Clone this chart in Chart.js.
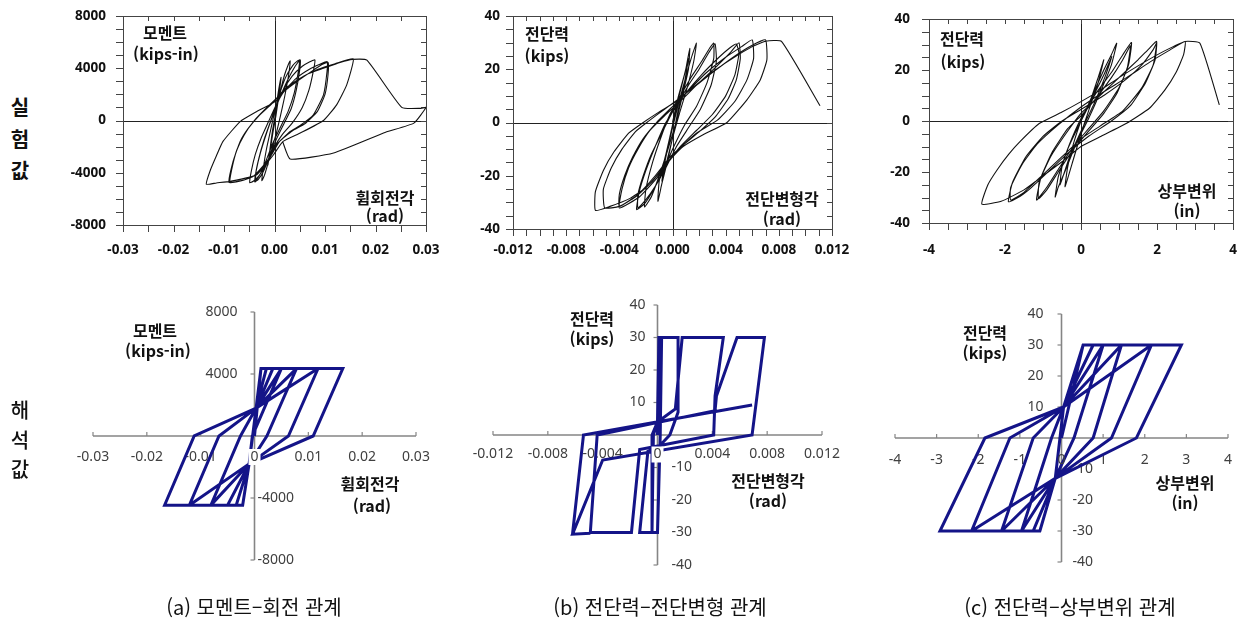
<!DOCTYPE html>
<html lang="ko">
<head>
<meta charset="utf-8">
<title>모멘트-회전, 전단력-전단변형, 전단력-상부변위 관계</title>
<script src="https://cdn.jsdelivr.net/npm/chart.js@4.4.1/dist/chart.umd.min.js"></script>
<style>
  html, body { margin: 0; padding: 0; background: #fff; }
  body { position: relative; width: 1241px; height: 624px; overflow: hidden;
         font-family: "Noto Sans CJK KR", "Noto Sans", sans-serif; }
  canvas { position: absolute; }
  .lbl { position: absolute; transform: translate(-50%, -50%); white-space: nowrap;
         line-height: 1; color: #111; font-weight: 700; font-size: 16px; }
  .row { position: absolute; transform: translate(-50%, -50%); font-size: 20px; line-height: 1; color: #111; }
  .cap { position: absolute; transform: translate(-50%, -50%); font-size: 20px; line-height: 1;
         color: #111; white-space: nowrap; }
</style>
</head>
<body>
<script>
// ---------- measured hysteresis paths [x, y] ----------
// (a) test: rotation (rad) vs moment (kips-in)
const momentTest = [
  [0,0],[0.0006,1800],[0.0013,3300],
  [0.0010,2300],[0.0003,400],[-0.0003,-900],[-0.0009,-2400],[-0.0013,-3400],
  [-0.0010,-2500],[-0.0004,-800],[0.0004,900],[0.0012,2300],[0.0020,3500],[0.0027,4250],[0.0031,4560],
  [0.0028,3500],[0.0020,1800],[0.0012,400],[0.0004,-900],[-0.0004,-2000],[-0.0013,-3300],[-0.0020,-4200],[-0.0025,-4600],
  [-0.0022,-3600],[-0.0016,-2200],[-0.0008,-800],[0.0000,600],[0.0010,2000],[0.0022,3300],[0.0036,4200],[0.0045,4550],[0.0051,4640],
  [0.0050,3900],[0.0043,2300],[0.0033,900],[0.0018,-300],[0.0003,-1500],[-0.0010,-2800],[-0.0022,-3900],[-0.0032,-4500],[-0.0039,-4700],
  [-0.0036,-3800],[-0.0028,-2500],[-0.0016,-1000],[-0.0004,300],[0.0010,1700],[0.0026,3100],[0.0040,4100],[0.0049,4550],
  [0.0047,3700],[0.0039,2100],[0.0027,700],[0.0012,-500],[-0.0003,-1700],[-0.0016,-3000],[-0.0027,-4000],[-0.0037,-4600],
  [-0.0037,-4000],[-0.0031,-2900],[-0.0021,-1500],[-0.0010,-300],[0.0002,1000],[0.0017,2300],[0.0035,3400],[0.0055,4150],[0.0070,4500],[0.0080,4640],
  [0.0077,3800],[0.0068,2300],[0.0055,1000],[0.0035,-200],[0.0015,-1100],[0.0000,-2000],[-0.0015,-3200],[-0.0030,-4200],[-0.0042,-4650],[-0.0049,-4750],
  [-0.0046,-3900],[-0.0038,-2600],[-0.0026,-1300],[-0.0012,-100],[0.0002,1100],[0.0020,2300],[0.0045,3300],[0.0070,3950],[0.0090,4300],[0.0104,4510],
  [0.0104,3750],[0.0097,1960],[0.0077,440],[0.0050,-400],[0.0031,-840],[0.0004,-1860],[-0.0015,-3130],[-0.0042,-4280],[-0.0065,-4600],[-0.0088,-4710],
  [-0.0085,-3800],[-0.0075,-2300],[-0.0060,-1100],[-0.0040,0],[-0.0015,1000],[0.0015,2100],[0.0045,3000],[0.0075,3800],[0.0095,4300],[0.0106,4450],
  [0.0106,3500],[0.0100,2000],[0.0085,700],[0.0060,-250],[0.0035,-800],[0.0010,-1600],[-0.0010,-2900],[-0.0035,-4100],[-0.0060,-4550],[-0.0090,-4750],
  [-0.0082,-3130],[-0.0068,-1600],[-0.0052,-600],[-0.0030,400],[-0.0005,1300],[0.0020,2400],[0.0051,3240],[0.0085,3900],[0.0120,4350],[0.0156,4720],
  [0.0143,2730],[0.0123,1200],[0.0097,0],[0.0051,-960],[0.0017,-1600],[-0.0002,-2620],[-0.0035,-4150],[-0.0088,-4660],[-0.0115,-4780],[-0.0135,-4880],
  [-0.0128,-3900],[-0.0115,-2700],[-0.0102,-1600],[-0.0068,-80],[-0.0035,690],[0.0001,1450],[0.0031,2730],[0.0065,3550],[0.0097,4000],[0.0130,4450],[0.0154,4680],
  [0.0183,4620],[0.0252,1000],[0.0290,930],[0.0300,1000],[0.0276,-200],[0.0220,-900],[0.0117,-2490],[0.0031,-2950],[0.0016,-1600]
];

// (b) test: shear distortion (rad) vs shear (kips)
const shearTest = [
  [0,0],[0.0004,9],[0.0009,18],[0.0012,24],
  [0.0009,15],[0.0004,4],[0.0000,-6],[-0.0004,-14],[-0.0008,-22],
  [-0.0005,-13],[0.0000,-2],[0.0005,8],[0.0010,17],[0.0014,24],[0.0018,29.8],
  [0.0016,23],[0.0011,13],[0.0005,3],[0.0000,-6],[-0.0004,-15],[-0.0008,-23],[-0.0011,-29.6],
  [-0.0010,-22],[-0.0005,-12],[0.0000,-1],[0.0005,10],[0.0010,20],[0.0013,27.9],
  [0.0012,20],[0.0007,9],[0.0002,-1],[-0.0004,-11],[-0.0010,-20],[-0.0016,-28],[-0.0021,-31.7],
  [-0.0020,-25],[-0.0015,-15],[-0.0009,-6],[-0.0002,3],[0.0006,10],[0.0014,17],[0.0022,23],[0.0028,28],[0.0031,29.8],
  [0.0031,24],[0.0026,15],[0.0018,6],[0.0009,-1],[0.0001,-9],[-0.0006,-17],[-0.0014,-25],[-0.0021,-30.5],[-0.0027,-32.7],
  [-0.0025,-26],[-0.0020,-18],[-0.0013,-9],[-0.0005,0],[0.0004,7],[0.0012,14],[0.0020,20],[0.0027,26],[0.0032,29.5],
  [0.0033,23],[0.0029,14],[0.0021,5],[0.0012,-2],[0.0003,-9],[-0.0005,-17],[-0.0013,-24],[-0.0020,-29],[-0.0026,-32],
  [-0.0026,-27],[-0.0022,-20],[-0.0016,-12],[-0.0008,-4],[0.0000,4],[0.0010,11],[0.0022,18],[0.0035,24.5],[0.0043,28],[0.0048,29.5],
  [0.0050,26],[0.0047,18],[0.0040,10],[0.0030,3],[0.0018,-3],[0.0006,-9],[-0.0002,-14],[-0.0012,-21],[-0.0025,-28],[-0.0040,-32.1],
  [-0.0038,-25],[-0.0033,-17],[-0.0026,-10],[-0.0017,-3],[-0.0006,2.5],[0.0006,8],[0.0019,14.5],[0.0033,21],[0.0044,26.5],[0.0050,30],
  [0.0051,24],[0.0048,16],[0.0042,9],[0.0032,2],[0.0020,-3.5],[0.0008,-8.5],[-0.0002,-13],[-0.0013,-20],[-0.0026,-27],[-0.0040,-31.5],
  [-0.0040,-27],[-0.0036,-20],[-0.0030,-13],[-0.0022,-6],[-0.0012,0],[0.0000,6],[0.0012,12],[0.0025,18.5],[0.0040,24.5],[0.0052,28.5],[0.0060,31],
  [0.0061,24],[0.0056,16],[0.0047,8],[0.0034,1],[0.0018,-4],[0.0005,-10],[-0.0005,-15.5],[-0.0015,-22],[-0.0028,-28],[-0.0040,-31.5],[-0.0051,-32.1],
  [-0.0052,-25],[-0.0046,-17],[-0.0038,-10],[-0.0028,-3.5],[-0.0018,0.5],[-0.0006,5],[0.0005,9],[0.0018,14],[0.0032,19.5],[0.0047,25],[0.0060,29],[0.0070,31],
  [0.0071,23.5],[0.0066,16],[0.0056,8.5],[0.0041,0],[0.0023,-4.6],[0.0008,-9],[0.0000,-13],[-0.0010,-19],[-0.0020,-24.5],[-0.0032,-28.5],[-0.0047,-31.5],[-0.0058,-33],
  [-0.0058,-26],[-0.0052,-18],[-0.0044,-11],[-0.0033,-4],[-0.0022,0],[-0.0010,4],[0.0003,8],[0.0015,13],[0.0030,19],[0.0045,24],[0.0060,28.5],[0.0070,30.5],
  [0.0082,30.5],[0.0111,6.3]
];

// (c) test: top displacement (in) vs shear (kips)
const driftTest = [
  [0,0],[0.2,6],[0.45,17],[0.6,24],
  [0.45,15],[0.2,4],[0.0,-5],[-0.2,-15],[-0.42,-25.8],
  [-0.35,-18],[-0.2,-9],[0.0,0],[0.3,10],[0.6,20],[0.8,26],[0.94,30.5],
  [0.8,22],[0.5,11],[0.2,1],[-0.1,-8],[-0.4,-19],[-0.6,-26],[-0.68,-29.8],
  [-0.6,-22],[-0.35,-11],[0.0,0],[0.3,9],[0.6,18],[0.81,25.3],
  [0.65,18],[0.35,7],[0.0,-4],[-0.3,-14],[-0.55,-25],
  [-0.5,-18],[-0.3,-9],[0.0,1],[0.4,11],[0.8,19],[1.1,26],[1.33,30.8],
  [1.25,22],[1.0,13],[0.6,4],[0.2,-3],[-0.2,-10],[-0.6,-19],[-0.9,-26],[-1.17,-31],
  [-1.05,-22],[-0.75,-12],[-0.35,-3],[0.0,2],[0.4,9],[0.8,17],[1.1,24],[1.3,29.5],
  [1.22,21],[0.95,11],[0.6,3],[0.2,-4],[-0.2,-11],[-0.6,-20],[-0.9,-27],[-1.12,-30.5],
  [-1.1,-24],[-0.8,-14],[-0.4,-5],[0.0,3],[0.5,10],[1.0,17],[1.5,24],[1.8,28.5],[1.99,31.2],
  [1.95,24],[1.7,15],[1.3,6],[0.8,0],[0.2,-6],[-0.3,-12],[-0.8,-19],[-1.3,-26],[-1.6,-29.5],[-1.91,-31.7],
  [-1.8,-24],[-1.45,-14],[-1.0,-6],[-0.5,0],[0.0,4.5],[0.6,10],[1.2,16.5],[1.6,22],[1.9,28],[1.99,30.5],
  [1.9,22],[1.6,13],[1.1,4],[0.5,-2],[0.0,-7],[-0.5,-14],[-1.0,-21],[-1.5,-28],[-1.85,-31],
  [-1.85,-26],[-1.55,-17],[-1.15,-9],[-0.6,-1.5],[0.0,5.5],[0.6,11.5],[1.2,17],[1.8,23],[2.3,27.5],[2.74,31.2],
  [2.7,26],[2.5,19],[2.2,12],[1.8,5],[1.2,-0.9],[0.5,-6.2],[0.0,-10],[-0.5,-16],[-1.0,-21.5],[-1.5,-27],[-2.1,-31.5],[-2.61,-32.6],
  [-2.45,-25],[-2.2,-19],[-1.9,-13],[-1.6,-8],[-1.1,-1],[-0.5,3.5],[0.0,7.6],[0.5,12],[1.0,17],[1.6,22.5],[2.2,27.5],[2.74,31.2],
  [3.13,30.5],[3.64,6.3]
];

// ---------- analysis hysteresis paths [x, y] ----------
const momentModel = [
  [0,0],[0.0012,4350],[0.0003,1800],[-0.0010,-1800],[-0.0022,-4460],[-0.0010,-1800],[0.0003,1800],
  [0.0012,4350],[0.0022,4350],[0.0003,1800],[-0.0010,-1800],[-0.0022,-4460],[-0.0034,-4460],[-0.0010,-1800],[0.0003,1800],
  [0.0022,4350],[0.0034,4350],[0.0003,1800],[-0.0010,-1800],[-0.0034,-4460],[-0.0050,-4460],[-0.0010,-1800],[0.0003,1800],
  [0.0034,4350],[0.0050,4350],[-0.0004,0],[-0.0010,-1800],[-0.0050,-4460],[-0.0081,-4460],[-0.0026,0],[0.0003,1800],
  [0.0050,4350],[0.0078,4350],[0.0023,0],[-0.0010,-1800],[-0.0081,-4460],[-0.0121,-4460],[-0.0066,0],[0.0003,1800],
  [0.0078,4350],[0.0118,4350],[0.0063,0],[-0.0010,-1800],[-0.0121,-4460],[-0.0167,-4460],[-0.0112,0],[0.0003,1800],
  [0.0118,4350],[0.0164,4350],[0.0109,0],[-0.0010,-1800]
];

const shearModel = [
  [0,0],[0.0001,30],[0.0003,30],[0.0002,0],[0.0000,-30],[-0.0004,-30],[-0.0003,0],[0.0000,4],
  [0.0001,30],[0.0015,30],[0.0015,7],[0.0009,0],[0.0000,-4],[-0.0007,-5],[-0.0013,-30],[-0.0004,-30],[-0.0004,0],[0.0000,4],
  [0.0013,8],[0.0018,30],[0.0048,30],[0.0042,12],[0.0041,0],[-0.0013,-4.5],[-0.0019,-30],[-0.0049,-30],[-0.0044,0],[0.0042,7.5],[0.0043,12],
  [0.0058,30],[0.0078,30],[0.0069,0],[-0.0040,-7.7],[-0.0062,-30.5],[-0.0049,-30.2],[-0.0062,-30.5],[-0.0054,0],[0.0069,9.2]
];

const driftModel = [
  [0,0],[0.52,30],[0.05,10],[-0.15,-13],[-0.52,-30],[-0.15,-13],[0.05,10],
  [0.52,30],[0.76,30],[0.05,10],[-0.15,-13],[-0.52,-30],[-0.68,-30],[-0.15,-13],[0.05,10],
  [0.76,30],[1.0,30],[0.3,0],[-0.15,-13],[-0.68,-30],[-0.96,-30],[-0.24,0],[0.05,10],
  [1.0,30],[1.44,30],[0.76,0],[-0.15,-13],[-0.96,-30],[-1.44,-30],[-0.68,0],[0.05,10],
  [1.44,30],[2.16,30],[1.2,0],[-0.15,-13],[-1.44,-30],[-2.16,-30],[-1.24,0],[0.05,10],
  [2.16,30],[2.88,30],[1.8,0],[-0.15,-13],[-2.16,-30],[-2.92,-30],[-1.84,0],[0.05,10]
];

// ---------- tick values and labels ----------
const rotTicks = [-0.03, -0.02, -0.01, 0, 0.01, 0.02, 0.03];
const rotTopLabels = ['-0.03', '-0.02', '-0.01', '0.00', '0.01', '0.02', '0.03'];
const rotBottomLabels = ['-0.03', '-0.02', '-0.01', '0', '0.01', '0.02', '0.03'];
const momentTicks = [8000, 4000, 0, -4000, -8000];
const momentLabels = ['8000', '4000', '0', '-4000', '-8000'];
const momentModelTicks = [8000, 4000, -4000, -8000];
const momentModelLabels = ['8000', '4000', '-4000', '-8000'];

const gammaTicks = [-0.012, -0.008, -0.004, 0, 0.004, 0.008, 0.012];
const gammaTopLabels = ['-0.012', '-0.008', '-0.004', '0.000', '0.004', '0.008', '0.012'];
const gammaBottomLabels = ['-0.012', '-0.008', '-0.004', '0', '0.004', '0.008', '0.012'];

const shearTicks = [40, 20, 0, -20, -40];
const shearLabels = ['40', '20', '0', '-20', '-40'];
const shearModelTicks = [40, 30, 20, 10, -10, -20, -30, -40];
const shearModelLabels = ['40', '30', '20', '10', '-10', '-20', '-30', '-40'];

const dispTopTicks = [-4, -2, 0, 2, 4];
const dispTopLabels = ['-4', '-2', '0', '2', '4'];
const dispBottomTicks = [-4, -3, -2, -1, 0, 1, 2, 3, 4];
const dispBottomLabels = ['-4', '-3', '-2', '-1', '0', '1', '2', '3', '4'];

// ---------- helpers ----------
const MARGIN = 80;

function mountCanvas(area) {
  const c = document.createElement('canvas');
  const w = area.r - area.l + 2 * MARGIN;
  const h = area.b - area.t + 2 * MARGIN;
  c.width = w; c.height = h;
  c.style.width = w + 'px'; c.style.height = h + 'px';
  c.style.left = (area.l - MARGIN) + 'px';
  c.style.top = (area.t - MARGIN) + 'px';
  document.body.appendChild(c);
  return c;
}

function seg(ctx, x1, y1, x2, y2) {
  ctx.beginPath(); ctx.moveTo(x1, y1); ctx.lineTo(x2, y2); ctx.stroke();
}

// boxed frame with inward/outward ticks and zero lines (test results)
function boxedAxes(o) {
  return {
    id: 'boxedAxes',
    beforeDatasetsDraw(chart) {
      const { ctx, chartArea: a, scales: { x, y } } = chart;
      ctx.save();
      ctx.lineWidth = 1;
      ctx.strokeStyle = '#222';
      const zx = Math.round(x.getPixelForValue(0)) + 0.5;
      const zy = Math.round(y.getPixelForValue(0)) + 0.5;
      seg(ctx, zx, a.top, zx, a.bottom);
      seg(ctx, a.left, zy, a.right, zy);

      ctx.strokeStyle = '#444';
      ctx.strokeRect(Math.round(a.left) + 0.5, Math.round(a.top) + 0.5,
                     Math.round(a.right - a.left), Math.round(a.bottom - a.top));
      const nx = Math.round((x.max - x.min) / o.xStep);
      for (let i = 0; i <= nx; i++) {
        const px = Math.round(x.getPixelForValue(x.min + i * o.xStep)) + 0.5;
        seg(ctx, px, a.bottom, px, a.bottom + 7);
        seg(ctx, px, a.top, px, a.top + 5);
      }
      const ny = Math.round((y.max - y.min) / o.yStep);
      for (let i = 0; i <= ny; i++) {
        const py = Math.round(y.getPixelForValue(y.min + i * o.yStep)) + 0.5;
        seg(ctx, a.left - 7, py, a.left, py);
        seg(ctx, a.right - 5, py, a.right, py);
      }

      ctx.fillStyle = '#111';
      ctx.font = 'bold 13.5px "Noto Sans", "Open Sans", sans-serif';
      ctx.textBaseline = 'middle';
      ctx.textAlign = 'center';
      o.xTicks.forEach((v, i) => ctx.fillText(o.xLabels[i], x.getPixelForValue(v), a.bottom + o.xDy));
      ctx.textAlign = 'right';
      o.yTicks.forEach((v, i) => ctx.fillText(o.yLabels[i], a.left - o.yDx, y.getPixelForValue(v)));
      ctx.restore();
    }
  };
}

// axes crossing at the origin (analysis results)
function crossAxes(o) {
  function zeroLabel(chart) {
    const { ctx, scales: { x, y } } = chart;
    const px = x.getPixelForValue(0), py = y.getPixelForValue(0) + o.xDy;
    ctx.save();
    ctx.font = '14px "Noto Sans", "Open Sans", sans-serif';
    ctx.textAlign = 'center'; ctx.textBaseline = 'middle';
    if (o.zeroBox) {
      ctx.fillStyle = '#fff';
      ctx.fillRect(px - 6, py - 8, 12, 16);
    }
    ctx.fillStyle = '#404040';
    ctx.fillText('0', px, py);
    ctx.restore();
  }
  return {
    id: 'crossAxes',
    beforeDatasetsDraw(chart) {
      const { ctx, scales: { x, y } } = chart;
      const x0 = x.getPixelForValue(0), y0 = y.getPixelForValue(0);
      const xl = x.getPixelForValue(x.min), xr = x.getPixelForValue(x.max);
      const yt = y.getPixelForValue(y.max), yb = y.getPixelForValue(y.min);
      ctx.save();
      ctx.strokeStyle = '#858585';
      ctx.lineWidth = 1.6;
      seg(ctx, xl, y0, xr, y0);
      seg(ctx, x0, yt, x0, yb);
      ctx.lineWidth = 1.2;
      o.xTicks.forEach(v => { const px = x.getPixelForValue(v); seg(ctx, px, y0 - 4, px, y0); });
      o.yTickMarks.forEach(v => { const py = y.getPixelForValue(v); seg(ctx, x0 - 4, py, x0, py); });

      ctx.fillStyle = '#404040';
      ctx.font = '14px "Noto Sans", "Open Sans", sans-serif';
      ctx.textBaseline = 'middle';
      ctx.textAlign = 'center';
      o.xTicks.forEach((v, i) => {
        if (v !== 0) ctx.fillText(o.xLabels[i], x.getPixelForValue(v), y0 + o.xDy);
      });
      o.yTicks.forEach((v, i) => {
        const py = y.getPixelForValue(v);
        if (v > 0) { ctx.textAlign = 'right'; ctx.fillText(o.yLabels[i], x0 - o.posGap, py); }
        else { ctx.textAlign = 'left'; ctx.fillText(o.yLabels[i], x0 + o.negGap, py); }
      });
      ctx.restore();
    },
    afterDatasetsDraw(chart) { zeroLabel(chart); }
  };
}

function drawPanel(area, path, xr, yr, style, axesPlugin) {
  const canvas = mountCanvas(area);
  return new Chart(canvas, {
    type: 'scatter',
    data: {
      datasets: [{
        data: path.map(p => ({ x: p[0], y: p[1] })),
        showLine: true,
        borderColor: style.color,
        borderWidth: style.width,
        tension: style.tension,
        pointRadius: 0,
        fill: false
      }]
    },
    options: {
      responsive: false,
      animation: false,
      devicePixelRatio: 1,
      events: [],
      layout: { padding: MARGIN },
      plugins: { legend: { display: false }, tooltip: { enabled: false } },
      scales: {
        x: { type: 'linear', min: xr[0], max: xr[1], display: false },
        y: { type: 'linear', min: yr[0], max: yr[1], display: false }
      }
    },
    plugins: [axesPlugin]
  });
}

const testStyle = { color: '#111', width: 1.1, tension: 0.15 };
const modelStyle = { color: '#141488', width: 3, tension: 0 };

// ---------- test results (top row) ----------
drawPanel({ l: 123, t: 16, r: 426, b: 225 }, momentTest, [-0.03, 0.03], [-8000, 8000], testStyle,
  boxedAxes({ xStep: 0.005, yStep: 1000, xTicks: rotTicks, xLabels: rotTopLabels,
              yTicks: momentTicks, yLabels: momentLabels, xDy: 25, yDx: 17 }));

drawPanel({ l: 513, t: 16, r: 832, b: 229 }, shearTest, [-0.012, 0.012], [-40, 40], testStyle,
  boxedAxes({ xStep: 0.001, yStep: 5, xTicks: gammaTicks, xLabels: gammaTopLabels,
              yTicks: shearTicks, yLabels: shearLabels, xDy: 21, yDx: 13 }));

drawPanel({ l: 929, t: 19, r: 1233, b: 223 }, driftTest, [-4, 4], [-40, 40], testStyle,
  boxedAxes({ xStep: 0.5, yStep: 5, xTicks: dispTopTicks, xLabels: dispTopLabels,
              yTicks: shearTicks, yLabels: shearLabels, xDy: 27, yDx: 19 }));

// ---------- analysis results (bottom row) ----------
drawPanel({ l: 93, t: 312, r: 416, b: 560 }, momentModel, [-0.03, 0.03], [-8000, 8000], modelStyle,
  crossAxes({ xTicks: rotTicks, xLabels: rotBottomLabels, yTicks: momentModelTicks, yLabels: momentModelLabels,
              yTickMarks: [8000, 4000, 0, -4000, -8000], xDy: 21, posGap: 17, negGap: 3, zeroBox: true }));

drawPanel({ l: 493, t: 305, r: 822, b: 565 }, shearModel, [-0.012, 0.012], [-40, 40], modelStyle,
  crossAxes({ xTicks: gammaTicks, xLabels: gammaBottomLabels, yTicks: shearModelTicks, yLabels: shearModelLabels,
              yTickMarks: [40, 30, 20, 10, 0, -10, -20, -30, -40], xDy: 19.5, posGap: 12, negGap: 14, zeroBox: true }));

drawPanel({ l: 895, t: 314, r: 1228, b: 562 }, driftModel, [-4, 4], [-40, 40], modelStyle,
  crossAxes({ xTicks: dispBottomTicks, xLabels: dispBottomLabels, yTicks: shearModelTicks, yLabels: shearModelLabels,
              yTickMarks: [40, 30, 20, 10, 0, -10, -20, -30, -40], xDy: 22, posGap: 18, negGap: 11, zeroBox: false }));

// ---------- text ----------
function text(cls, str, x, y) {
  const d = document.createElement('div');
  d.className = cls; d.textContent = str;
  d.style.left = x + 'px'; d.style.top = y + 'px';
  document.body.appendChild(d);
  return d;
}
const axisTitles = [
  ['모멘트', 165, 32], ['(kips-in)', 166, 53], ['휨회전각', 385, 197], ['(rad)', 385, 215],
  ['전단력', 547, 33], ['(kips)', 547, 55], ['전단변형각', 782, 198], ['(rad)', 782, 218],
  ['전단력', 962, 38], ['(kips)', 963, 61], ['상부변위', 1187, 190], ['(in)', 1187, 210],
  ['모멘트', 155, 330], ['(kips-in)', 158, 350], ['휨회전각', 370, 483], ['(rad)', 372, 505],
  ['전단력', 592, 318], ['(kips)', 592, 338], ['전단변형각', 768, 480], ['(rad)', 768, 500],
  ['전단력', 985, 332], ['(kips)', 985, 352], ['상부변위', 1185, 482], ['(in)', 1185, 502]
];
axisTitles.forEach(t => text('lbl', t[0], t[1], t[2]));

[['실', 107], ['험', 139], ['값', 170]].forEach(r => { text('row', r[0], 20, r[1]).style.fontWeight = '700'; });
[['해', 410], ['석', 440], ['값', 469]].forEach(r => { text('row', r[0], 20, r[1]).style.fontWeight = '500'; });

text('cap', '(a) 모멘트–회전 관계', 254, 607);
text('cap', '(b) 전단력–전단변형 관계', 660, 607);
text('cap', '(c) 전단력–상부변위 관계', 1070, 607);
</script>
</body>
</html>
